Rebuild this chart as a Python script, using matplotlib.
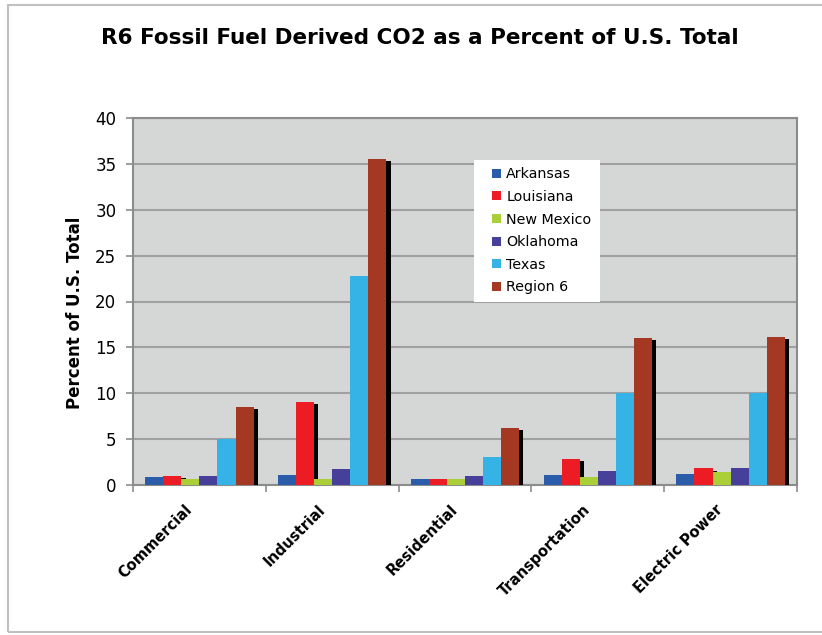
import numpy as np
import matplotlib.pyplot as plt
from matplotlib.patches import Patch, Rectangle
import matplotlib.patheffects as pe
import matplotlib.transforms as mtransforms

# --- data ---
sectors = ["Commercial", "Industrial", "Residential", "Transportation", "Electric Power"]
states = ["Arkansas", "Louisiana", "New Mexico", "Oklahoma", "Texas", "Region 6"]

arkansas = [0.9, 1.1, 0.6, 1.1, 1.25]
louisiana = [1.0, 9.1, 0.7, 2.8, 1.8]
new_mexico = [0.65, 0.65, 0.6, 0.9, 1.4]
oklahoma = [1.0, 1.75, 1.0, 1.5, 1.9]
texas = [5.0, 22.8, 3.1, 10.0, 10.0]
region6 = [8.5, 35.5, 6.2, 16.0, 16.1]

series = [arkansas, louisiana, new_mexico, oklahoma, texas, region6]
colors = ["#2A5CAA", "#ED1C24", "#AACF37", "#46409A", "#36B3E6", "#A43822"]

# --- figure ---
fig = plt.figure(figsize=(8.22, 6.35), dpi=100)
ax = fig.add_axes([133 / 822, 150 / 635, 664 / 822, 367 / 635])
ax.set_facecolor("#D5D7D6")

# thin frame around the whole picture
fig.patches.append(Rectangle((8 / 822, 3 / 635), 1.2, 627 / 635, transform=fig.transFigure,
                             fill=False, edgecolor="#C0C0C0", lw=1.5))

x = np.arange(len(sectors))
w = 0.136
shadow = [pe.SimplePatchShadow(offset=(3, -1.5), shadow_rgbFace="black", alpha=1.0), pe.Normal()]
for i, (vals, c) in enumerate(zip(series, colors)):
    bars = ax.bar(x + (i - 2.5) * w, vals, w, color=c, zorder=3)
    for b in bars:
        b.set_path_effects(shadow)

ax.set_xlim(-0.5, 4.5)
ax.set_ylim(0, 40)
ax.set_yticks(range(0, 41, 5))
ax.yaxis.grid(True, color="#A0A0A0", lw=1.5)
ax.set_axisbelow(True)
for s in ax.spines.values():
    s.set_color("#8C8C8C")
    s.set_linewidth(1.5)

# category labels, rotated, anchored just below the axis
ax.set_xticks(x)
ax.set_xticklabels([])
ax.tick_params(axis="x", length=0)
trans = mtransforms.offset_copy(ax.get_xaxis_transform(), fig=fig, x=-15, y=-17, units="dots")
for xi, name in zip(x, sectors):
    ax.text(xi, 0, name, transform=trans, rotation=45, ha="right", va="top",
            rotation_mode="anchor", fontsize=10.5, fontweight="bold")
ax.set_xticks(np.arange(-0.5, 5.0, 1.0), minor=True)
ax.tick_params(axis="x", which="minor", length=5, color="#8C8C8C", width=1.2)
ax.tick_params(axis="y", length=5, color="#8C8C8C", width=1.2, labelsize=12, pad=7)

ax.set_ylabel("Percent of U.S. Total", fontsize=12, fontweight="bold")
ax.yaxis.set_label_coords(-0.074, 0.47)
fig.text(420 / 822, 1 - 38 / 635, "R6 Fossil Fuel Derived CO2 as a Percent of U.S. Total",
         ha="center", va="center", fontsize=15.5, fontweight="bold")

# legend: white box plus frameless legend on top
ax.add_patch(Rectangle((0.5136, 0.4986), 0.1897, 0.387, transform=ax.transAxes,
                       facecolor="white", edgecolor="none", zorder=4.5))
handles = [Patch(facecolor=c, label=s) for c, s in zip(colors, states)]
leg = ax.legend(handles=handles, loc="upper left", bbox_to_anchor=(0.5407, 0.8654),
                frameon=False, fontsize=10.3, handlelength=0.6, handleheight=0.6,
                handletextpad=0.4, labelspacing=0.6, borderpad=0, borderaxespad=0)
leg.set_zorder(5)

fig.savefig("out.png", dpi=100)
